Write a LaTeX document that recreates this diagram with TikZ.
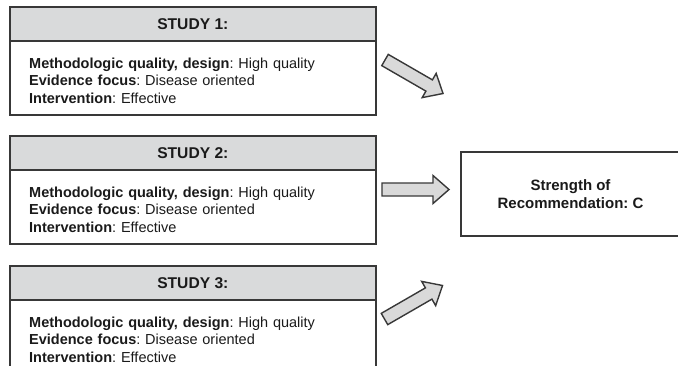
\documentclass[tikz,border=0pt]{standalone}
\usepackage{fontspec}
\setmainfont{Liberation Sans}
\frenchspacing
\definecolor{edge}{HTML}{383838}
\definecolor{ink}{HTML}{1A1A1A}
\definecolor{headgray}{HTML}{D9DADB}
\definecolor{arrowgray}{HTML}{D9D9D9}
\tikzset{
  headbox/.style={draw=edge, line width=1.7pt, fill=headgray, minimum width=366pt,
    minimum height=34pt, inner sep=0pt, anchor=north west, text=ink,
    font=\bfseries\fontsize{15.6}{18}\selectfont},
  framebox/.style={draw=edge, line width=1.7pt, minimum width=366pt,
    minimum height=74pt, inner sep=0pt, anchor=north west},
  bodytext/.style={anchor=north west, inner sep=0pt, text width=326pt, align=left,
    text=ink, font=\fontsize{14.5}{17.5}\selectfont},
  recbox/.style={draw=edge, line width=1.7pt, minimum width=219pt, minimum height=84pt,
    inner sep=0pt, align=center, text=ink, font=\bfseries\fontsize{15}{18}\selectfont},
  blockarrow/.style={draw=edge, line width=1.4pt, fill=arrowgray, line join=miter},
  fatarrow/.pic={
    \draw[blockarrow] (0,-6.5) -- (51,-6.5) -- (51,-14) -- (67,0) -- (51,14)
      -- (51,6.5) -- (0,6.5) -- cycle;
  }
}
\newcommand{\studybody}{\strut\textbf{Methodologic quality, design}: High quality\\
  \textbf{Evidence focus}: Disease oriented\\
  \textbf{Intervention}: Effective}
\begin{document}
\begin{tikzpicture}[x=1pt, y=-1pt]
\useasboundingbox (0,0) rectangle (678,365);
\clip (0,0) rectangle (678,365);

% Study 1
\node[framebox] (b1) at (9,40) {};
\node[headbox] (h1) at (9,6) {STUDY 1:};
\node[bodytext] (t1) at ([xshift=20pt, yshift=-15.75pt]b1.north west) {\studybody};

% Study 2
\node[framebox] (b2) at (9,169) {};
\node[headbox] (h2) at (9,135) {STUDY 2:};
\node[bodytext] (t2) at ([xshift=20pt, yshift=-15.75pt]b2.north west) {\studybody};

% Study 3 (runs past the lower edge)
\node[framebox] (b3) at (9,299) {};
\node[headbox] (h3) at (9,265) {STUDY 3:};
\node[bodytext] (t3) at ([xshift=20pt, yshift=-15.75pt]b3.north west) {\studybody};

% Result
\node[recbox] (rec) at (570.5,194) {Strength of\\Recommendation: C};

% Block arrows
\pic[rotate=-30] (a1) at (385,60) {fatarrow};
\pic (a2) at (382,189.5) {fatarrow};
\pic[rotate=30] (a3) at (384.5,319) {fatarrow};
\end{tikzpicture}
\end{document}
